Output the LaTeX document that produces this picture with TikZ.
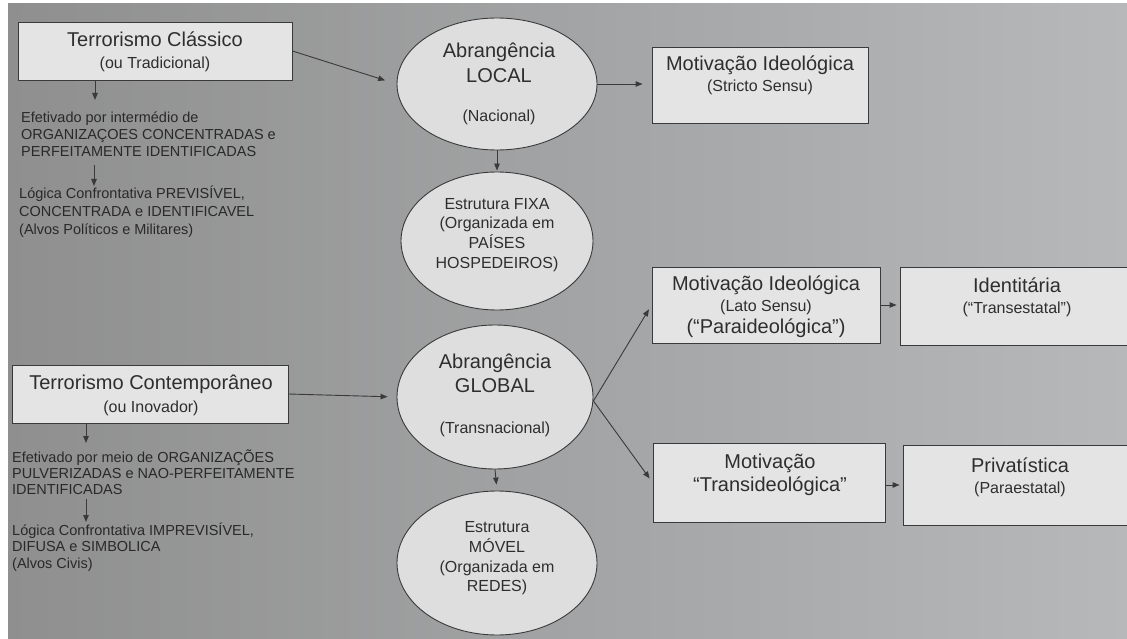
\documentclass[tikz,border=0pt]{standalone}
\usepackage{fontspec}
\setmainfont{Liberation Sans}
\usetikzlibrary{arrows.meta,shapes.geometric}
\definecolor{ink}{HTML}{2E2E2E}
\definecolor{edge}{HTML}{3A3A3A}
\definecolor{boxfill}{HTML}{E4E4E4}
\definecolor{ovalfill}{HTML}{DEDEDE}
\definecolor{bgleft}{HTML}{8F8F8F}
\definecolor{bgright}{HTML}{B6B8BA}
\tikzset{
  box/.style={draw=edge, line width=0.9pt, fill=boxfill, rectangle, inner sep=0pt},
  oval/.style={draw=edge, line width=0.9pt, fill=ovalfill, ellipse, inner sep=0pt},
  ttl/.style={text=ink, inner sep=0pt, anchor=base, font=\fontsize{20}{24}\selectfont},
  sub/.style={text=ink, inner sep=0pt, anchor=base, font=\fontsize{16}{19}\selectfont},
  small/.style={text=ink!90!black, inner sep=0pt, anchor=base west, font=\fontsize{14.5}{17}\selectfont},
  arr/.style={draw=edge, line width=0.9pt, -{Triangle[length=7pt,width=5.5pt]}}
}
\begin{document}
\begin{tikzpicture}[x=1pt,y=-1pt]
\clip (0,0) rectangle (1127,639);
\fill[white] (0,0) rectangle (1127,639);
\shade[left color=bgleft, right color=bgright] (8,4) rectangle (1127,639);

% ---- boxes ----
\node[box, minimum width=274pt, minimum height=58pt] (b1) at (155,51) {};
\node[box, minimum width=276pt, minimum height=58pt] (b2) at (150,394) {};
\node[box, minimum width=216pt, minimum height=76pt] (stricto) at (760,85) {};
\node[box, minimum width=228pt, minimum height=76pt] (lato) at (766,305) {};
\node[box, minimum width=240pt, minimum height=78pt] (ident) at (1020,306) {};
\node[box, minimum width=232pt, minimum height=79pt] (trans) at (769,482.5) {};
\node[box, minimum width=237pt, minimum height=80pt] (priv) at (1021.5,485) {};

% ---- ellipses ----
\node[oval, minimum width=200pt, minimum height=132pt] (local) at (497,84) {};
\node[oval, minimum width=192pt, minimum height=138pt] (fixa) at (497,241) {};
\node[oval, minimum width=196pt, minimum height=144pt] (global) at (495,397) {};
\node[oval, minimum width=200pt, minimum height=144pt] (movel) at (497,563) {};

% ---- box texts ----
\node[ttl] (b1t) at (155,47) {Terrorismo Clássico};
\node[sub] (b1s) at (155,69) {(ou Tradicional)};
\node[ttl] (b2t) at (151,389) {Terrorismo Contemporâneo};
\node[sub] (b2s) at (151,412) {(ou Inovador)};
\node[ttl] (st1) at (760,71) {Motivação Ideológica};
\node[sub] (st2) at (760,92) {(Stricto Sensu)};
\node[ttl] (la1) at (766,290) {Motivação Ideológica};
\node[sub] (la2) at (766,311) {(Lato Sensu)};
\node[ttl] (la3) at (766,333) {(“Paraideológica”)};
\node[ttl] (id1) at (1017,292) {Identitária};
\node[sub] (id2) at (1017,313) {(“Transestatal”)};
\node[ttl] (tr1) at (770,468) {Motivação};
\node[ttl] (tr2) at (770,491) {“Transideológica”};
\node[ttl] (pr1) at (1020,472) {Privatística};
\node[sub] (pr2) at (1020,493) {(Paraestatal)};

% ---- ellipse texts ----
\node[ttl] (lo1) at (499,58) {Abrangência};
\node[ttl] (lo2) at (499,83) {LOCAL};
\node[sub] (lo3) at (499,122) {(Nacional)};
\node[sub] (fx1) at (497,210) {Estrutura FIXA};
\node[sub] (fx2) at (497,229) {(Organizada em};
\node[sub] (fx3) at (497,248) {PAÍSES};
\node[sub] (fx4) at (497,268) {HOSPEDEIROS)};
\node[ttl] (gl1) at (495,368) {Abrangência};
\node[ttl] (gl2) at (495,392) {GLOBAL};
\node[sub] (gl3) at (495,433) {(Transnacional)};
\node[sub] (mv1) at (497,532) {Estrutura};
\node[sub] (mv2) at (497,552) {MÓVEL};
\node[sub] (mv3) at (497,572) {(Organizada em};
\node[sub] (mv4) at (497,591) {REDES)};

% ---- left small texts ----
\node[small] (c1) at (21,123) {Efetivado por intermédio de};
\node[small] (c2) at (21,140) {ORGANIZAÇOES CONCENTRADAS e};
\node[small] (c3) at (21,157) {PERFEITAMENTE IDENTIFICADAS};
\node[small] (c4) at (19,199) {Lógica Confrontativa PREVISÍVEL,};
\node[small] (c5) at (19,217) {CONCENTRADA e IDENTIFICAVEL};
\node[small] (c6) at (19,234) {(Alvos Políticos e Militares)};
\node[small] (m1) at (12,462) {Efetivado por meio de ORGANIZAÇÕES};
\node[small] (m2) at (12,478) {PULVERIZADAS e NAO-PERFEITAMENTE};
\node[small] (m3) at (12,494) {IDENTIFICADAS};
\node[small] (m4) at (12,535) {Lógica Confrontativa IMPREVISÍVEL,};
\node[small] (m5) at (12,551) {DIFUSA e SIMBOLICA};
\node[small] (m6) at (12,568) {(Alvos Civis)};

% ---- arrow tips for the left column ----
\coordinate (k1) at (95,100);
\coordinate (k2s) at (94,165);
\coordinate (k2) at (94,186);
\coordinate (k3) at (86,443);
\coordinate (k4s) at (86,499);
\coordinate (k4) at (86,522);

% ---- connectors ----
\draw[arr] (b1.south -| k1) -- (k1);
\draw[arr] (k2s) -- (k2);
\draw[arr] (b2.south -| k3) -- (k3);
\draw[arr] (k4s) -- (k4);

\draw[arr, shorten >=12pt] (b1.east) -- (local.west);
\draw[arr, shorten >=9pt] (b2.east) -- (global.west);
\draw[arr, shorten >=9pt] (local.east) -- (local.east -| stricto.west);
\draw[arr, shorten >=1pt] (local.south) -- (fixa.north);
\draw[arr, shorten >=6pt] (global.south) -- (movel.north);
\draw[arr, shorten >=5pt] ([yshift=-4pt]global.east) -- (lato.west);
\draw[arr, shorten >=5pt] ([yshift=-4pt]global.east) -- (trans.west);
\draw[arr, shorten >=3pt] (lato.east) -- (lato.east -| ident.west);
\draw[arr, shorten >=3pt] ([yshift=-2.5pt]trans.east) -- ([yshift=-2.5pt]trans.east -| priv.west);
\end{tikzpicture}
\end{document}
